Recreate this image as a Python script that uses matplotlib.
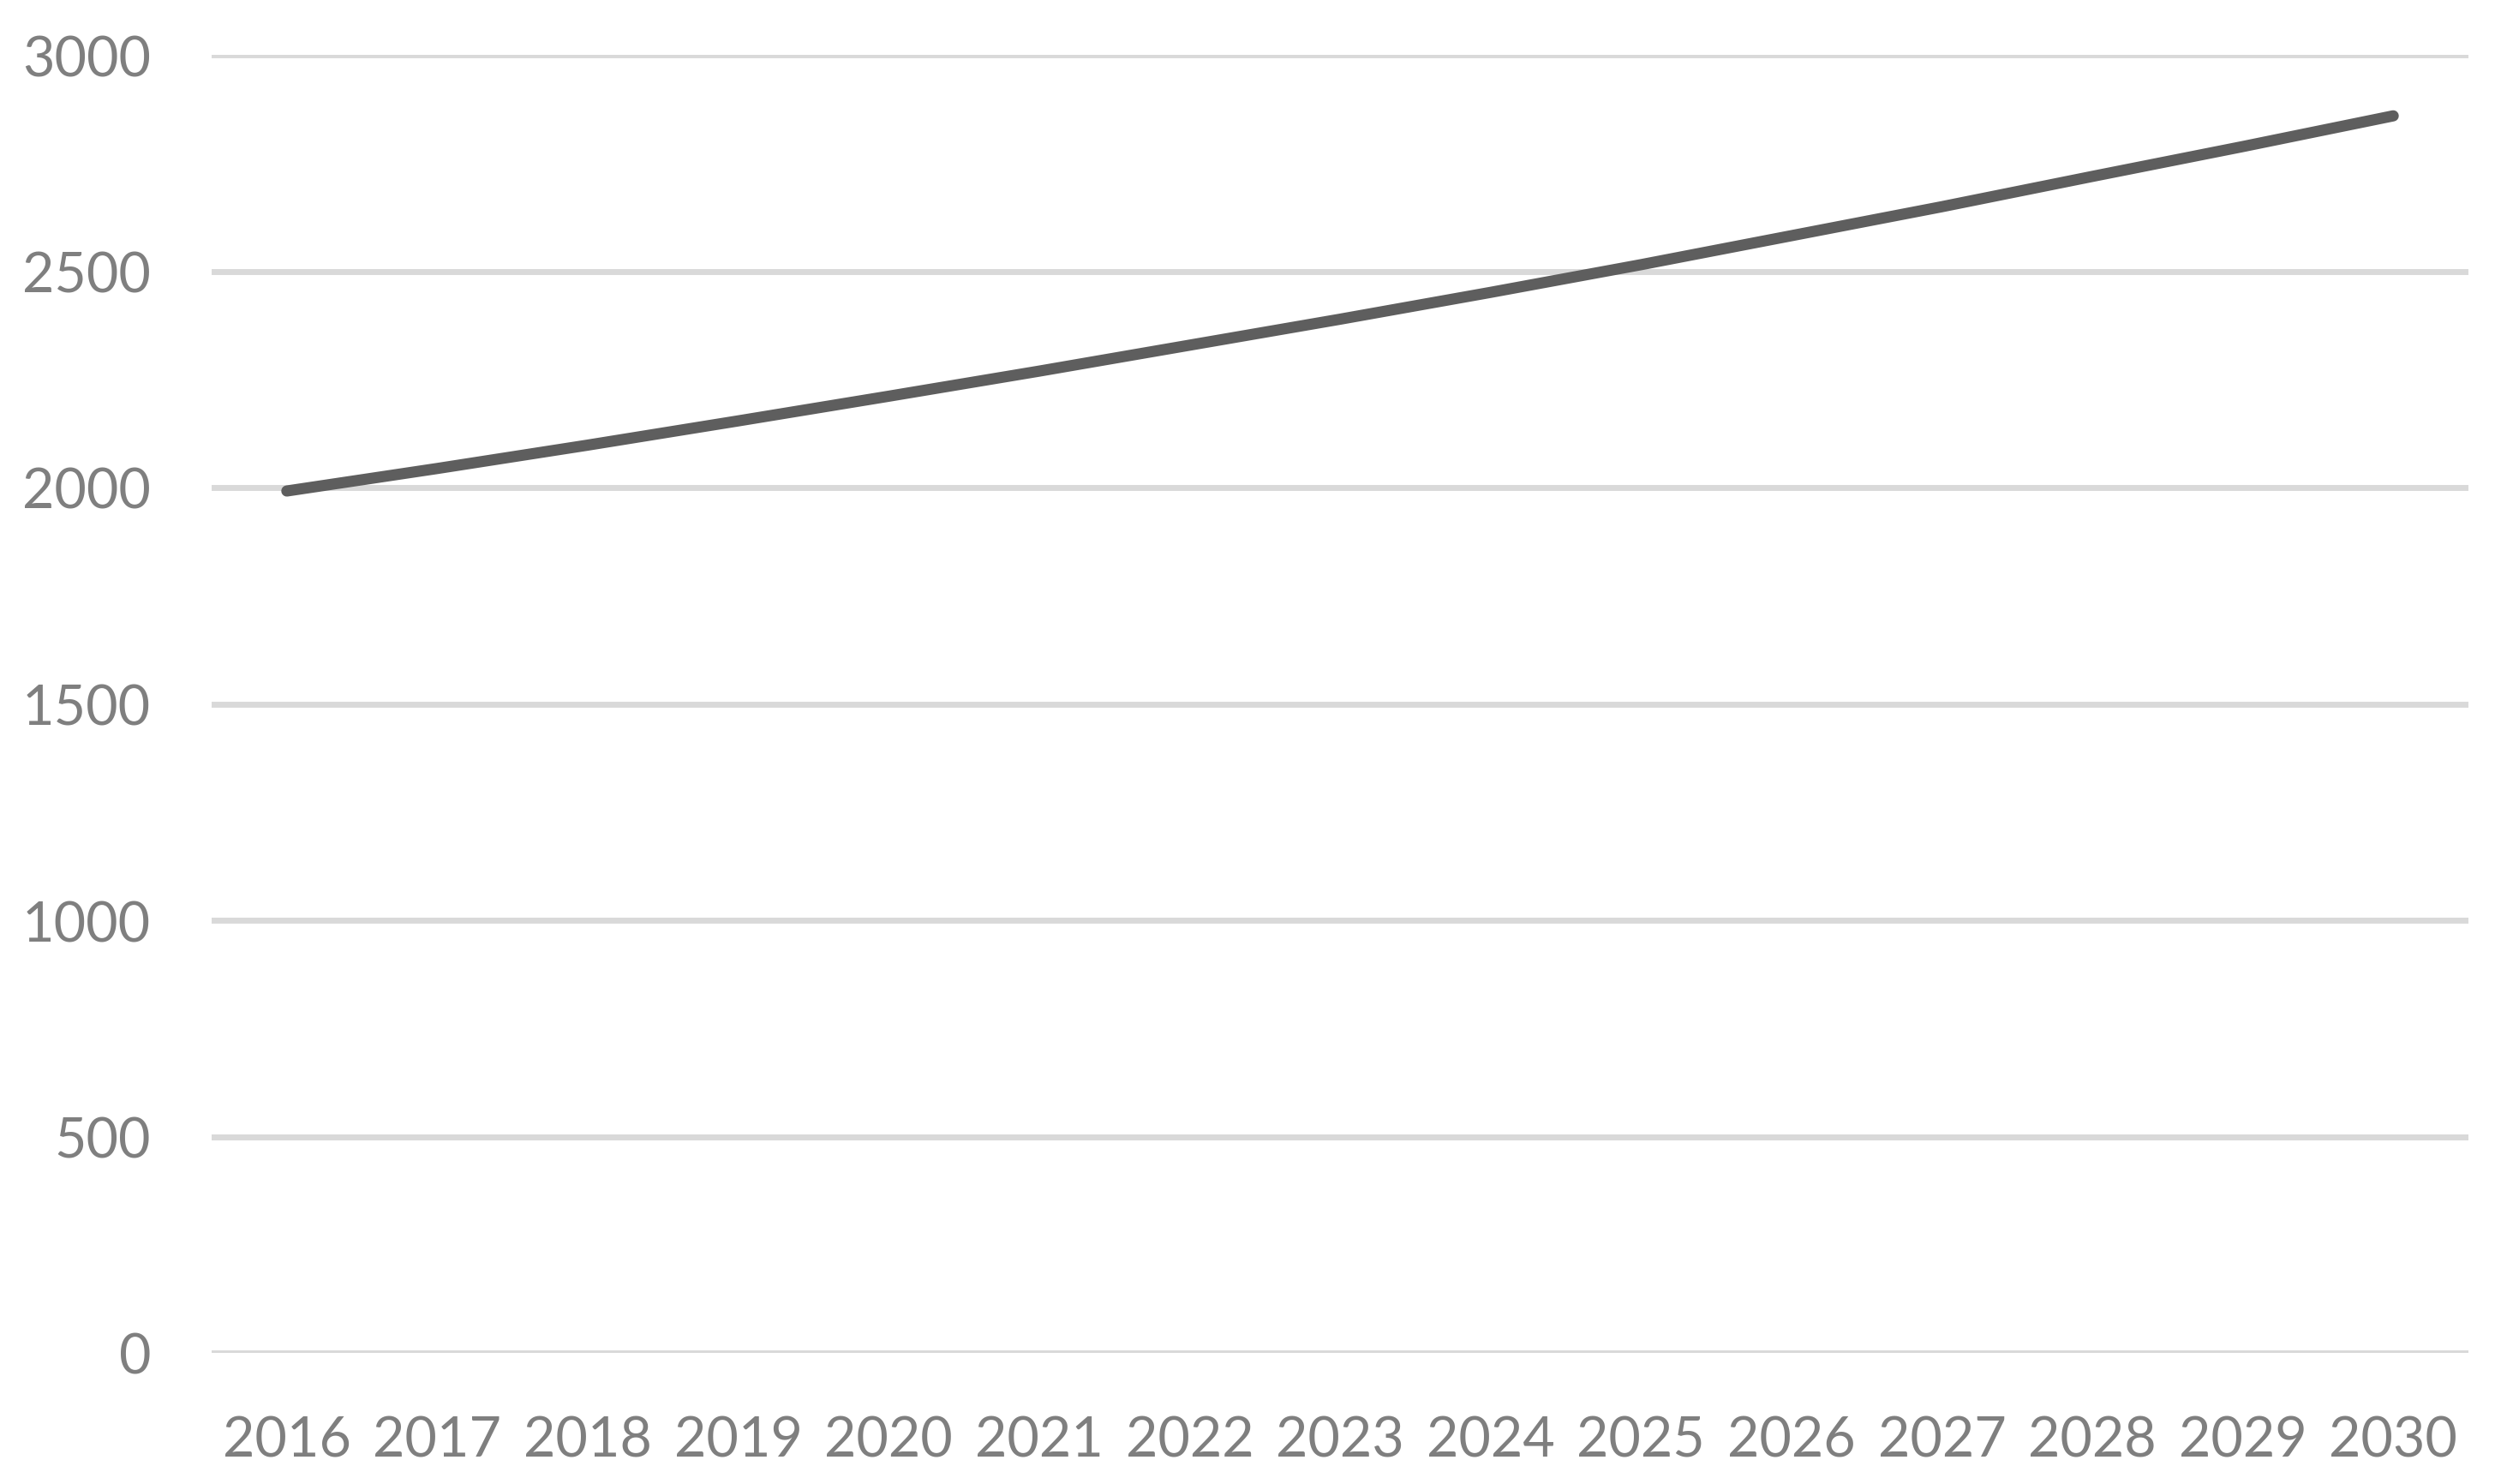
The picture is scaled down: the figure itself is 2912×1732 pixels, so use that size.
import matplotlib
matplotlib.use("Agg")
import matplotlib.pyplot as plt

years = ["2016", "2017", "2018", "2019", "2020", "2021", "2022", "2023",
         "2024", "2025", "2026", "2027", "2028", "2029", "2030"]
values = [1992, 2044, 2098, 2154, 2211, 2269, 2329, 2389,
          2451, 2515, 2582, 2649, 2719, 2788, 2859]
yticks = [0, 500, 1000, 1500, 2000, 2500, 3000]

plt.rcParams['font.family'] = ['Lato', 'DejaVu Sans']

fig = plt.figure(figsize=(29.12, 17.33), dpi=100)
ax = fig.add_axes([247/2912, 1 - 1580/1733, (2881-247)/2912, (1580-65)/1733])

x = list(range(len(years)))
ax.plot(x, values, color='#5E5E5E', linewidth=9.4, solid_capstyle='round',
        solid_joinstyle='round', zorder=3)

ax.set_xlim(-0.5, len(years) - 0.5)
ax.set_ylim(0, 3000)
ax.set_yticks(yticks)
ax.set_yticklabels([str(v) for v in yticks])
ax.set_xticks(x)
ax.set_xticklabels(years)

ax.grid(axis='y', color='#D9D9D9', linewidth=5.0, zorder=0)
ax.grid(axis='x', visible=False)
ax.set_axisbelow(True)
for s in ax.spines.values():
    s.set_visible(False)

ax.tick_params(axis='both', length=0, labelsize=46.5, labelcolor='#7F7F7F')
ax.tick_params(axis='y', pad=51)
ax.tick_params(axis='x', pad=52)

fig.savefig("out.png", dpi=100, facecolor='white')
